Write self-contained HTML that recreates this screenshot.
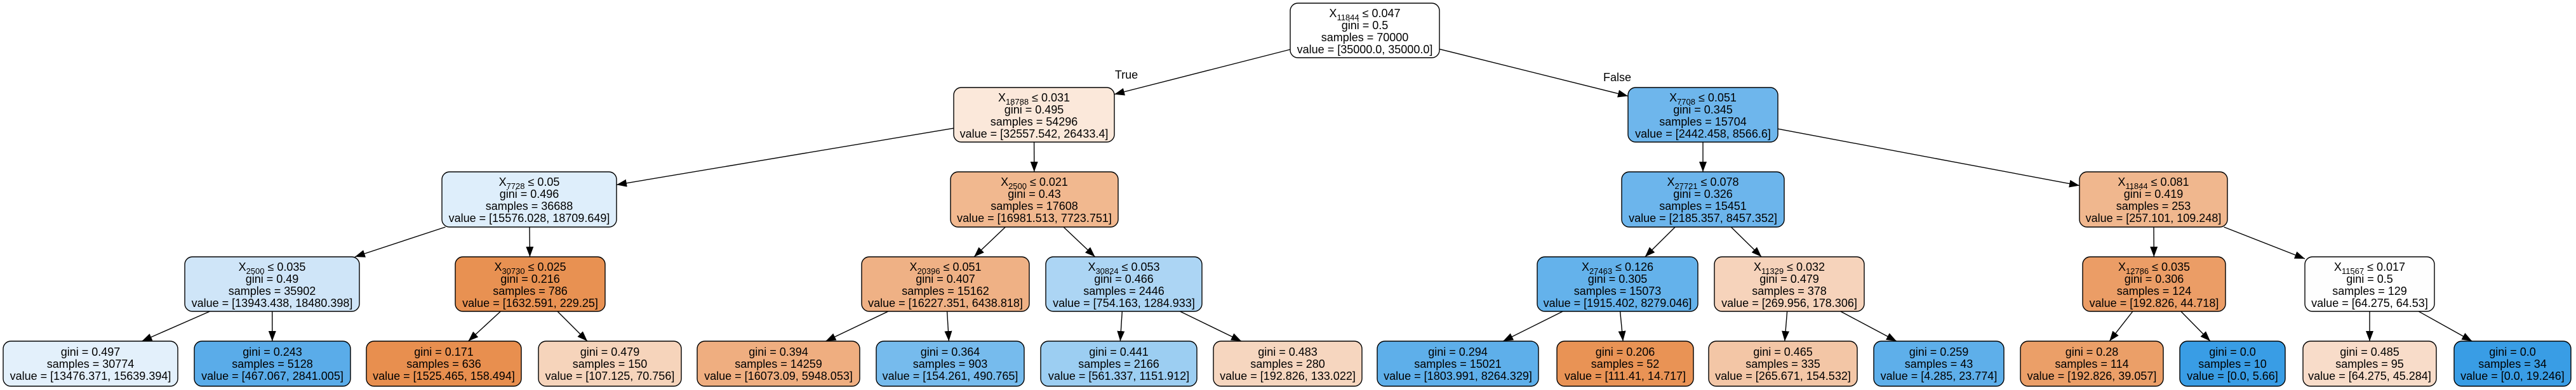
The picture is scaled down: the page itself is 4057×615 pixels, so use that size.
<!DOCTYPE html>
<html><head><meta charset="utf-8"><style>
html,body{margin:0;padding:0;background:#fff;width:4057px;height:615px;overflow:hidden}
svg text{font-family:"Liberation Sans",Arial,sans-serif;font-size:18px;fill:#000}
</style></head><body>
<svg width="4057" height="615" viewBox="0 0 4057 615" xmlns="http://www.w3.org/2000/svg">
<defs>
<marker id="ah" markerWidth="16" markerHeight="12" refX="16" refY="6" orient="auto" markerUnits="userSpaceOnUse">
<path d="M0,0 L16,6 L0,12 Z" fill="#000"/>
</marker>
</defs>
<g stroke="#000" stroke-width="1.4" marker-end="url(#ah)">
<line x1="2032" y1="78" x2="1755" y2="148.7"/>
<line x1="2267" y1="77.4" x2="2564" y2="151.5"/>
<line x1="1502" y1="202.2" x2="971" y2="291.4"/>
<line x1="1628.6" y1="224" x2="1628.8" y2="271"/>
<line x1="2682" y1="224" x2="2682" y2="271"/>
<line x1="2800" y1="203.2" x2="3275" y2="292.6"/>
<line x1="701.5" y1="358" x2="558.9" y2="405"/>
<line x1="834" y1="358" x2="834.5" y2="405"/>
<line x1="1583.4" y1="358" x2="1534.1" y2="405"/>
<line x1="1675" y1="358" x2="1724.6" y2="405"/>
<line x1="2638.2" y1="358" x2="2590.8" y2="405"/>
<line x1="2726.3" y1="358" x2="2774.2" y2="405"/>
<line x1="3392" y1="358" x2="3392.3" y2="405"/>
<line x1="3502.5" y1="358" x2="3630" y2="408"/>
<line x1="330.5" y1="491" x2="223.4" y2="538"/>
<line x1="428.7" y1="491" x2="428.8" y2="538"/>
<line x1="788.4" y1="491" x2="737.5" y2="538"/>
<line x1="878" y1="491" x2="925" y2="538"/>
<line x1="1398.9" y1="491" x2="1300.4" y2="538"/>
<line x1="1491.6" y1="491" x2="1494.4" y2="538"/>
<line x1="1767.3" y1="491" x2="1764.3" y2="538"/>
<line x1="1858.4" y1="491" x2="1955" y2="538"/>
<line x1="2461.3" y1="491" x2="2367.2" y2="538"/>
<line x1="2551.6" y1="491" x2="2556.1" y2="538"/>
<line x1="2814.6" y1="491" x2="2810.8" y2="538"/>
<line x1="2898.7" y1="491" x2="2986.9" y2="538"/>
<line x1="3358.9" y1="491" x2="3322.2" y2="538"/>
<line x1="3434.8" y1="491" x2="3481" y2="538"/>
<line x1="3732" y1="491" x2="3732" y2="538"/>
<line x1="3809.1" y1="491" x2="3893.3" y2="538"/>
</g>
<text x="1774" y="124" text-anchor="middle">True</text>
<text x="2547" y="128" text-anchor="middle">False</text>

<g stroke="#000" stroke-width="1.4">
<!-- level 0 -->
<rect x="2032" y="5" width="235" height="86" rx="12" fill="#ffffff"/>
<!-- level 1 -->
<rect x="1502" y="138" width="253" height="86" rx="12" fill="#fbe8da"/>
<rect x="2564" y="138" width="236" height="86" rx="12" fill="#6eb6ec"/>
<!-- level 2 -->
<rect x="696" y="271" width="275" height="87" rx="12" fill="#deeefb"/>
<rect x="1497" y="271" width="264" height="87" rx="12" fill="#f1b88f"/>
<rect x="2554" y="271" width="256" height="87" rx="12" fill="#6cb5ec"/>
<rect x="3275" y="271" width="233" height="87" rx="12" fill="#f0b78e"/>
<!-- level 3 -->
<rect x="291" y="405" width="275" height="86" rx="12" fill="#cfe5f8"/>
<rect x="717" y="405" width="236" height="86" rx="12" fill="#e89152"/>
<rect x="1357" y="405" width="264" height="86" rx="12" fill="#efb185"/>
<rect x="1647" y="405" width="246" height="86" rx="12" fill="#acd5f4"/>
<rect x="2421" y="405" width="253" height="86" rx="12" fill="#64b2eb"/>
<rect x="2700" y="405" width="236" height="86" rx="12" fill="#f6d3bb"/>
<rect x="3280" y="405" width="225" height="86" rx="12" fill="#eb9d66"/>
<rect x="3630" y="405" width="204" height="86" rx="12" fill="#fefefe"/>
<!-- leaves -->
<rect x="5" y="538" width="275" height="71" rx="12" fill="#e3f0fb"/>
<rect x="306" y="538" width="246" height="71" rx="12" fill="#5aace9"/>
<rect x="577" y="538" width="244" height="71" rx="12" fill="#e88f4f"/>
<rect x="848" y="538" width="225" height="71" rx="12" fill="#f6d4bb"/>
<rect x="1098" y="538" width="256" height="71" rx="12" fill="#efae80"/>
<rect x="1380" y="538" width="233" height="71" rx="12" fill="#76bbed"/>
<rect x="1639" y="538" width="246" height="71" rx="12" fill="#9ccef2"/>
<rect x="1911" y="538" width="234" height="71" rx="12" fill="#f6d6bf"/>
<rect x="2169" y="538" width="254" height="71" rx="12" fill="#5eafea"/>
<rect x="2452" y="538" width="215" height="71" rx="12" fill="#e99355"/>
<rect x="2691" y="538" width="234" height="71" rx="12" fill="#f3c6a6"/>
<rect x="2951" y="538" width="205" height="71" rx="12" fill="#5eafea"/>
<rect x="3182" y="538" width="225" height="71" rx="12" fill="#eb9f68"/>
<rect x="3433" y="538" width="166" height="71" rx="12" fill="#399de5"/>
<rect x="3627" y="538" width="210" height="71" rx="12" fill="#f8dcc9"/>
<rect x="3865" y="538" width="184" height="71" rx="12" fill="#399de5"/>
</g>

<g text-anchor="middle">
<!-- root -->
<text x="2149.5" y="27">X<tspan font-size="13" dy="5">11844</tspan><tspan dy="-5"> ≤ 0.047</tspan></text>
<text x="2149.5" y="46">gini = 0.5</text>
<text x="2149.5" y="65">samples = 70000</text>
<text x="2149.5" y="84">value = [35000.0, 35000.0]</text>
<!-- A -->
<text x="1628.5" y="160">X<tspan font-size="13" dy="5">18788</tspan><tspan dy="-5"> ≤ 0.031</tspan></text>
<text x="1628.5" y="179">gini = 0.495</text>
<text x="1628.5" y="198">samples = 54296</text>
<text x="1628.5" y="217">value = [32557.542, 26433.4]</text>
<!-- B -->
<text x="2682" y="160">X<tspan font-size="13" dy="5">7708</tspan><tspan dy="-5"> ≤ 0.051</tspan></text>
<text x="2682" y="179">gini = 0.345</text>
<text x="2682" y="198">samples = 15704</text>
<text x="2682" y="217">value = [2442.458, 8566.6]</text>
<!-- A1 -->
<text x="833.5" y="293">X<tspan font-size="13" dy="5">7728</tspan><tspan dy="-5"> ≤ 0.05</tspan></text>
<text x="833.5" y="312">gini = 0.496</text>
<text x="833.5" y="331">samples = 36688</text>
<text x="833.5" y="350">value = [15576.028, 18709.649]</text>
<!-- A2 -->
<text x="1629" y="293">X<tspan font-size="13" dy="5">2500</tspan><tspan dy="-5"> ≤ 0.021</tspan></text>
<text x="1629" y="312">gini = 0.43</text>
<text x="1629" y="331">samples = 17608</text>
<text x="1629" y="350">value = [16981.513, 7723.751]</text>
<!-- B1 -->
<text x="2682" y="293">X<tspan font-size="13" dy="5">27721</tspan><tspan dy="-5"> ≤ 0.078</tspan></text>
<text x="2682" y="312">gini = 0.326</text>
<text x="2682" y="331">samples = 15451</text>
<text x="2682" y="350">value = [2185.357, 8457.352]</text>
<!-- B2 -->
<text x="3391.5" y="293">X<tspan font-size="13" dy="5">11844</tspan><tspan dy="-5"> ≤ 0.081</tspan></text>
<text x="3391.5" y="312">gini = 0.419</text>
<text x="3391.5" y="331">samples = 253</text>
<text x="3391.5" y="350">value = [257.101, 109.248]</text>
<!-- L3 -->
<text x="428.5" y="427">X<tspan font-size="13" dy="5">2500</tspan><tspan dy="-5"> ≤ 0.035</tspan></text>
<text x="428.5" y="446">gini = 0.49</text>
<text x="428.5" y="465">samples = 35902</text>
<text x="428.5" y="484">value = [13943.438, 18480.398]</text>

<text x="835" y="427">X<tspan font-size="13" dy="5">30730</tspan><tspan dy="-5"> ≤ 0.025</tspan></text>
<text x="835" y="446">gini = 0.216</text>
<text x="835" y="465">samples = 786</text>
<text x="835" y="484">value = [1632.591, 229.25]</text>

<text x="1489" y="427">X<tspan font-size="13" dy="5">20396</tspan><tspan dy="-5"> ≤ 0.051</tspan></text>
<text x="1489" y="446">gini = 0.407</text>
<text x="1489" y="465">samples = 15162</text>
<text x="1489" y="484">value = [16227.351, 6438.818]</text>

<text x="1770" y="427">X<tspan font-size="13" dy="5">30824</tspan><tspan dy="-5"> ≤ 0.053</tspan></text>
<text x="1770" y="446">gini = 0.466</text>
<text x="1770" y="465">samples = 2446</text>
<text x="1770" y="484">value = [754.163, 1284.933]</text>

<text x="2547.5" y="427">X<tspan font-size="13" dy="5">27463</tspan><tspan dy="-5"> ≤ 0.126</tspan></text>
<text x="2547.5" y="446">gini = 0.305</text>
<text x="2547.5" y="465">samples = 15073</text>
<text x="2547.5" y="484">value = [1915.402, 8279.046]</text>

<text x="2818" y="427">X<tspan font-size="13" dy="5">11329</tspan><tspan dy="-5"> ≤ 0.032</tspan></text>
<text x="2818" y="446">gini = 0.479</text>
<text x="2818" y="465">samples = 378</text>
<text x="2818" y="484">value = [269.956, 178.306]</text>

<text x="3392.5" y="427">X<tspan font-size="13" dy="5">12786</tspan><tspan dy="-5"> ≤ 0.035</tspan></text>
<text x="3392.5" y="446">gini = 0.306</text>
<text x="3392.5" y="465">samples = 124</text>
<text x="3392.5" y="484">value = [192.826, 44.718]</text>

<text x="3732" y="427">X<tspan font-size="13" dy="5">11567</tspan><tspan dy="-5"> ≤ 0.017</tspan></text>
<text x="3732" y="446">gini = 0.5</text>
<text x="3732" y="465">samples = 129</text>
<text x="3732" y="484">value = [64.275, 64.53]</text>

<!-- leaves -->
<text x="142.5" y="561">gini = 0.497</text><text x="142.5" y="580">samples = 30774</text><text x="142.5" y="599">value = [13476.371, 15639.394]</text>
<text x="429" y="561">gini = 0.243</text><text x="429" y="580">samples = 5128</text><text x="429" y="599">value = [467.067, 2841.005]</text>
<text x="699" y="561">gini = 0.171</text><text x="699" y="580">samples = 636</text><text x="699" y="599">value = [1525.465, 158.494]</text>
<text x="960.5" y="561">gini = 0.479</text><text x="960.5" y="580">samples = 150</text><text x="960.5" y="599">value = [107.125, 70.756]</text>
<text x="1226" y="561">gini = 0.394</text><text x="1226" y="580">samples = 14259</text><text x="1226" y="599">value = [16073.09, 5948.053]</text>
<text x="1496.5" y="561">gini = 0.364</text><text x="1496.5" y="580">samples = 903</text><text x="1496.5" y="599">value = [154.261, 490.765]</text>
<text x="1762" y="561">gini = 0.441</text><text x="1762" y="580">samples = 2166</text><text x="1762" y="599">value = [561.337, 1151.912]</text>
<text x="2028" y="561">gini = 0.483</text><text x="2028" y="580">samples = 280</text><text x="2028" y="599">value = [192.826, 133.022]</text>
<text x="2296" y="561">gini = 0.294</text><text x="2296" y="580">samples = 15021</text><text x="2296" y="599">value = [1803.991, 8264.329]</text>
<text x="2559.5" y="561">gini = 0.206</text><text x="2559.5" y="580">samples = 52</text><text x="2559.5" y="599">value = [111.41, 14.717]</text>
<text x="2808" y="561">gini = 0.465</text><text x="2808" y="580">samples = 335</text><text x="2808" y="599">value = [265.671, 154.532]</text>
<text x="3053.5" y="561">gini = 0.259</text><text x="3053.5" y="580">samples = 43</text><text x="3053.5" y="599">value = [4.285, 23.774]</text>
<text x="3294.5" y="561">gini = 0.28</text><text x="3294.5" y="580">samples = 114</text><text x="3294.5" y="599">value = [192.826, 39.057]</text>
<text x="3516" y="561">gini = 0.0</text><text x="3516" y="580">samples = 10</text><text x="3516" y="599">value = [0.0, 5.66]</text>
<text x="3732" y="561">gini = 0.485</text><text x="3732" y="580">samples = 95</text><text x="3732" y="599">value = [64.275, 45.284]</text>
<text x="3957" y="561">gini = 0.0</text><text x="3957" y="580">samples = 34</text><text x="3957" y="599">value = [0.0, 19.246]</text>
</g>
</svg>
</body></html>
